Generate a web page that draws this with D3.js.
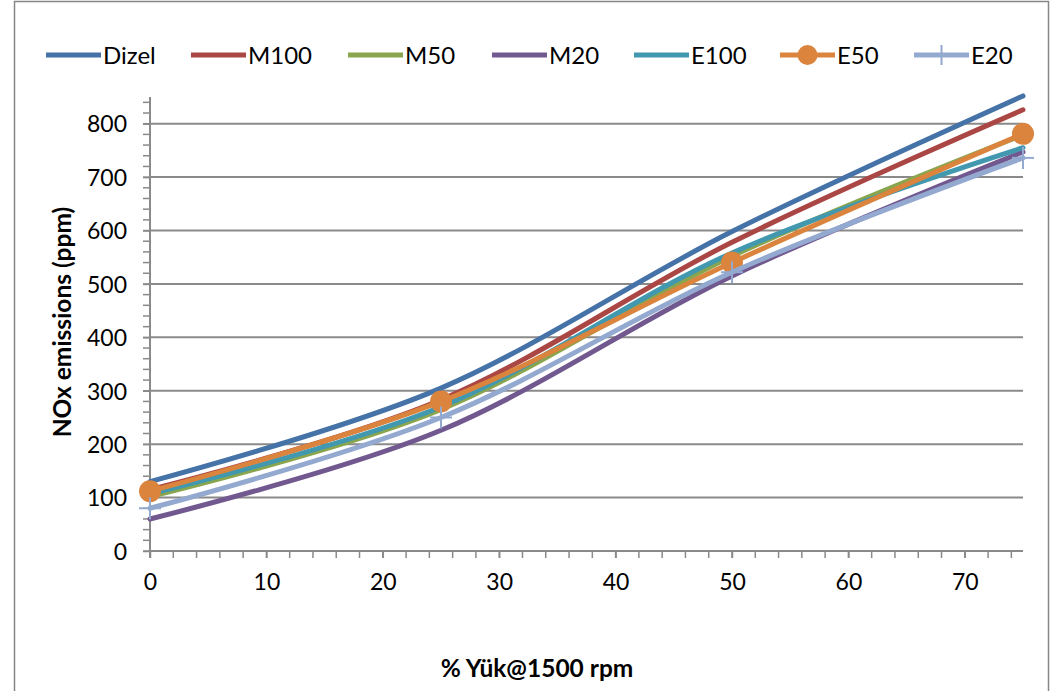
<!DOCTYPE html>
<html><head><meta charset="utf-8">
<script src="https://cdn.jsdelivr.net/npm/d3@7"></script>
<style>
html,body{margin:0;padding:0;background:#fff;}
text{font-family:Lato, "Open Sans", sans-serif;fill:#000;}
</style></head>
<body><svg id="c" width="1059" height="691"></svg>
<script>
const loads = [0, 25, 50, 75];
const seriesNames = ["Dizel", "M100", "M50", "M20", "E100", "E50", "E20"];
const dizel = [130, 305, 598, 852];
const m100  = [115, 283, 578, 826];
const m50   = [102, 265, 552, 779];
const m20   = [60, 226, 515, 747];
const e100  = [107, 270, 558, 755];
const e50   = [112, 280, 540, 781];
const e20   = [80, 250, 522, 736];
const seriesValues = [dizel, m100, m50, m20, e100, e50, e20];
const colors = ["#4572A7", "#AA4643", "#89A54E", "#71588F", "#4198AF", "#DB843D", "#93A9CF"];
const markers = ["none", "none", "none", "none", "none", "circle", "plus"];
const xTicks = [0, 10, 20, 30, 40, 50, 60, 70];
const yTicks = [0, 100, 200, 300, 400, 500, 600, 700, 800];

const svg = d3.select("#c");
const W = 1059, H = 691;
const L = 150, R = 1023, T = 97, B = 551;
const x = d3.scaleLinear().domain([0, 75]).range([L, R]);
const y = d3.scaleLinear().domain([0, 850]).range([B, T]);

svg.append("rect").attr("x", 0).attr("y", 0).attr("width", W).attr("height", H).attr("fill", "#fff");
svg.append("rect").attr("x", 14.5).attr("y", 1.5).attr("width", 1034).attr("height", 720)
  .attr("fill", "none").attr("stroke", "#868686").attr("stroke-width", 1.5);

const grey = "#8a8a8a";
// gridlines
svg.append("g").selectAll("line").data(yTicks.filter(d => d > 0)).join("line")
  .attr("x1", L).attr("x2", R).attr("y1", d => y(d)).attr("y2", d => y(d))
  .attr("stroke", grey).attr("stroke-width", 2);

// minor ticks
const yMinor = d3.range(0, 851, 20);
svg.append("g").selectAll("line").data(yMinor).join("line")
  .attr("x1", L - 7).attr("x2", L).attr("y1", d => y(d)).attr("y2", d => y(d))
  .attr("stroke", grey).attr("stroke-width", 1.5);
const xMinor = d3.range(0, 75.1, 2);
svg.append("g").selectAll("line").data(xMinor).join("line")
  .attr("x1", d => x(d)).attr("x2", d => x(d)).attr("y1", B).attr("y2", B + 7)
  .attr("stroke", grey).attr("stroke-width", 1.5);

// axes via d3
const yAxis = d3.axisLeft(y).tickValues(yTicks).tickSize(7).tickPadding(16);
const gy = svg.append("g").attr("transform", `translate(${L},0)`).call(yAxis);
gy.select(".domain").attr("stroke", grey).attr("stroke-width", 2).attr("d", `M0,${T}V${B + 7}`);
gy.selectAll(".tick line").attr("stroke", grey).attr("stroke-width", 1.5);
gy.selectAll(".tick text").attr("font-size", 23).attr("font-family", "Lato").attr("fill", "#000").attr("dy", "0.36em");

const xAxis = d3.axisBottom(x).tickValues(xTicks).tickSize(7).tickPadding(16);
const gx = svg.append("g").attr("transform", `translate(0,${B})`).call(xAxis);
gx.select(".domain").attr("stroke", grey).attr("stroke-width", 2).attr("d", `M${L},0H${R}`);
gx.selectAll(".tick line").attr("stroke", grey).attr("stroke-width", 1.5);
gx.selectAll(".tick text").attr("font-size", 23).attr("font-family", "Lato").attr("fill", "#000");

// titles
svg.append("text").attr("transform", `translate(71,322) rotate(-90)`).attr("text-anchor", "middle")
  .attr("font-size", 24.5).attr("font-weight", "bold").text("NOx emissions (ppm)");
svg.append("text").attr("x", 537).attr("y", 677).attr("text-anchor", "middle")
  .attr("font-size", 24.5).attr("font-weight", "bold").text("% Yük@1500 rpm");

// lines
const line = d3.line().x((d, i) => x(loads[i])).y(d => y(d)).curve(d3.curveCardinal.tension(0));
const gl = svg.append("g");
seriesValues.forEach((vals, k) => {
  gl.append("path").attr("d", line(vals)).attr("fill", "none")
    .attr("stroke", colors[k]).attr("stroke-width", 5).attr("stroke-linecap", "round");
  if (markers[k] === "circle") {
    gl.selectAll(null).data(vals).join("circle")
      .attr("cx", (d, i) => x(loads[i])).attr("cy", d => y(d)).attr("r", 11).attr("fill", colors[k]);
  } else if (markers[k] === "plus") {
    vals.forEach((d, i) => {
      const cx = x(loads[i]), cy = y(d);
      gl.append("line").attr("x1", cx - 11).attr("x2", cx + 11).attr("y1", cy).attr("y2", cy)
        .attr("stroke", colors[k]).attr("stroke-width", 2);
      gl.append("line").attr("x1", cx).attr("x2", cx).attr("y1", cy - 11).attr("y2", cy + 11)
        .attr("stroke", colors[k]).attr("stroke-width", 2);
    });
  }
});

// legend
const legX = [46, 191, 348, 492, 634, 780, 914];
const legY = 55;
const lg = svg.append("g");
seriesNames.forEach((name, k) => {
  const x0 = legX[k];
  lg.append("line").attr("x1", x0).attr("x2", x0 + 55).attr("y1", legY).attr("y2", legY)
    .attr("stroke", colors[k]).attr("stroke-width", 5);
  if (markers[k] === "circle") {
    lg.append("circle").attr("cx", x0 + 27.5).attr("cy", legY).attr("r", 10).attr("fill", colors[k]);
  } else if (markers[k] === "plus") {
    lg.append("line").attr("x1", x0 + 27.5).attr("x2", x0 + 27.5).attr("y1", legY - 10).attr("y2", legY + 10)
      .attr("stroke", colors[k]).attr("stroke-width", 2);
  }
  lg.append("text").attr("x", x0 + 57).attr("y", legY).attr("dy", "0.36em")
    .attr("font-size", 24).text(name);
});
</script></body></html>
